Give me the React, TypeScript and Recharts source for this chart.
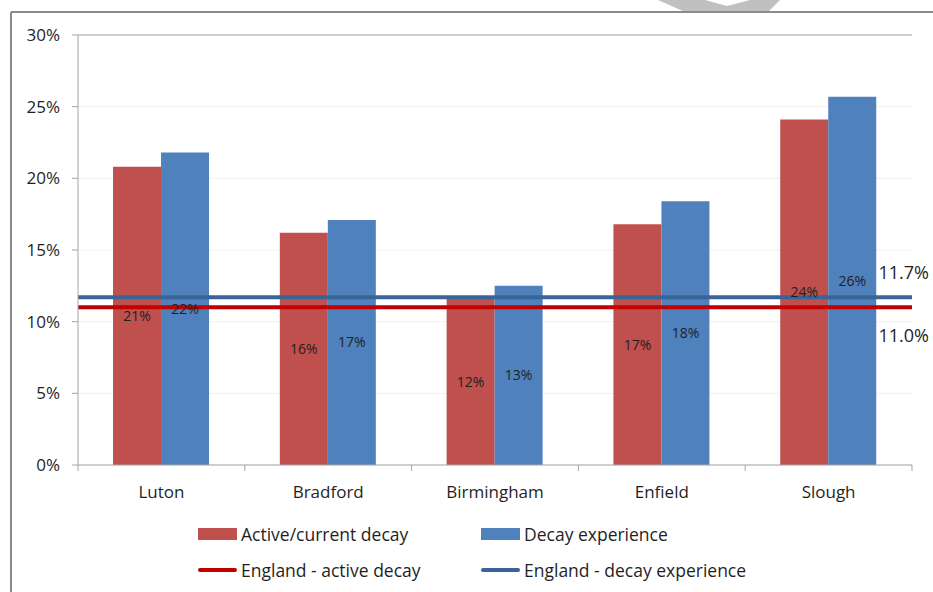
import React from 'react';
import { BarChart, Bar, XAxis, YAxis, CartesianGrid, ReferenceLine, LabelList } from 'recharts';

const areas = ['Luton', 'Bradford', 'Birmingham', 'Enfield', 'Slough'];
const activeDecay = [20.8, 16.2, 11.6, 16.8, 24.1];
const decayExperience = [21.8, 17.1, 12.5, 18.4, 25.7];
const englandActive = 11.0;
const englandExperience = 11.7;
const yTicks = [0, 5, 10, 15, 20, 25, 30];
const seriesNames = ['Active/current decay', 'Decay experience', 'England - active decay', 'England - decay experience'];

const data = areas.map((a, i) => ({ area: a, active: activeDecay[i], experience: decayExperience[i] }));

const W = 933;
const H = 592;
const M = { top: 35, right: 21, left: 0, bottom: 0 };
const Y_AXIS_W = 78;
const X_AXIS_H = 127;
const plotW = W - M.left - M.right - Y_AXIS_W;
const band = plotW / areas.length;

const FONT = '"Open Sans", sans-serif';
const RED = '#C0504D';
const BLUE = '#4F81BD';
const LINE_RED = '#C00000';
const LINE_BLUE = '#3A6496';
const AXIS = '#A6A6A6';
const TEXT = '#1F1F1F';

const XTick = (props: any) => {
  const { x, y, payload, index } = props;
  return (
    <g>
      <line x1={x - band / 2} x2={x - band / 2} y1={y} y2={y + 6} stroke={AXIS} />
      {index === areas.length - 1 && (
        <line x1={x + band / 2} x2={x + band / 2} y1={y} y2={y + 6} stroke={AXIS} />
      )}
      <text x={x} y={y + 33} textAnchor="middle" fontSize={17} fontFamily={FONT} fill={TEXT}>
        {payload.value}
      </text>
    </g>
  );
};

const makeRefLabel = (text: string, dy: number) => (props: any) => {
  const vb = props.viewBox || {};
  const right = (vb.x || 0) + (vb.width || 0);
  return (
    <text x={right + 17} y={(vb.y || 0) + dy} textAnchor="end" dominantBaseline="central" fontSize={18} fontFamily={FONT} fill={TEXT}>
      {text}
    </text>
  );
};

const LegendItem = ({ name, color, kind }: { name: string; color: string; kind: 'rect' | 'line' }) => (
  <div style={{ display: 'flex', alignItems: 'center', width: 283 }}>
    <div
      style={{
        width: 39,
        height: kind === 'rect' ? 12 : 4,
        background: color,
        marginRight: 4,
        borderRadius: kind === 'line' ? 2 : 0,
      }}
    />
    <span style={{ fontFamily: FONT, fontSize: 17.5, color: TEXT, whiteSpace: 'nowrap' }}>{name}</span>
  </div>
);

export default function App() {
  return (
    <div style={{ position: 'absolute', left: 0, top: 0, width: W, height: H, background: '#fff', overflow: 'hidden' }}>
      <svg width={W} height={H} style={{ position: 'absolute', left: 0, top: 0 }}>
        <polygon points="658,0 705,0 727,6 750,0 780,0 768,12 685,12" fill="#C0C0C0" />
        <line x1={11} y1={12} x2={W} y2={12} stroke="#8A8A8A" strokeWidth={2} />
        <line x1={11} y1={12} x2={11} y2={H} stroke="#8A8A8A" strokeWidth={2} />
      </svg>
      <div style={{ position: 'absolute', left: 0, top: 0 }}>
        <BarChart width={W} height={H} data={data} margin={M} barCategoryGap="21%" barGap={0}>
          <CartesianGrid vertical={false} stroke="#F0F0F0" />
          <XAxis
            dataKey="area"
            height={X_AXIS_H}
            tick={<XTick />}
            tickLine={false}
            tickSize={0}
            tickMargin={0}
            axisLine={{ stroke: AXIS }}
            interval={0}
          />
          <YAxis
            width={Y_AXIS_W}
            domain={[0, 30]}
            ticks={yTicks}
            tickFormatter={(v: number) => `${v}%`}
            tickSize={6}
            tickMargin={12}
            tickLine={{ stroke: AXIS }}
            axisLine={{ stroke: AXIS }}
            tick={{ fontSize: 17, fontFamily: FONT, fill: TEXT }}
            interval={0}
          />
          <ReferenceLine y={yTicks[yTicks.length - 1]} stroke={AXIS} />
          <Bar dataKey="active" name={seriesNames[0]} fill={RED} isAnimationActive={false}>
            <LabelList dataKey="active" position="center" formatter={(v: any) => `${Math.round(Number(v))}%`} fontSize={14} fontFamily={FONT} fill={TEXT} />
          </Bar>
          <Bar dataKey="experience" name={seriesNames[1]} fill={BLUE} isAnimationActive={false}>
            <LabelList dataKey="experience" position="center" formatter={(v: any) => `${Math.round(Number(v))}%`} fontSize={14} fontFamily={FONT} fill={TEXT} />
          </Bar>
          <ReferenceLine y={englandExperience} stroke={LINE_BLUE} strokeWidth={4} label={makeRefLabel(`${englandExperience.toFixed(1)}%`, -25)} />
          <ReferenceLine y={englandActive} stroke={LINE_RED} strokeWidth={4} label={makeRefLabel(`${englandActive.toFixed(1)}%`, 28)} />
        </BarChart>
      </div>
      <div style={{ position: 'absolute', left: 198, top: 522, display: 'flex', flexWrap: 'wrap', width: 566, rowGap: 12 }}>
        <LegendItem name={seriesNames[0]} color={RED} kind="rect" />
        <LegendItem name={seriesNames[1]} color={BLUE} kind="rect" />
        <LegendItem name={seriesNames[2]} color={LINE_RED} kind="line" />
        <LegendItem name={seriesNames[3]} color={LINE_BLUE} kind="line" />
      </div>
    </div>
  );
}
